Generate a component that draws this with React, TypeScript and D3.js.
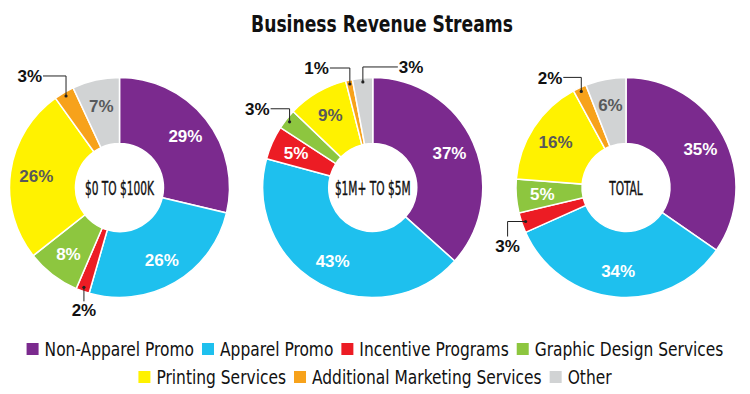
import { useRef, useEffect } from "react";
import * as d3 from "d3";

const categories = [
  "Non-Apparel Promo",
  "Apparel Promo",
  "Incentive Programs",
  "Graphic Design Services",
  "Printing Services",
  "Additional Marketing Services",
  "Other",
];
const colors = ["#7b2a8e", "#1ec0ee", "#ec1c24", "#8dc63f", "#fff200", "#f7a21b", "#d1d3d4"];
const darkText = ["#ffffff", "#ffffff", "#ffffff", "#ffffff", "#58595b", "#ffffff", "#58595b"];

const chartNames = ["$0 TO $100K", "$1M+ TO $5M", "TOTAL"];
const smallBiz = [29, 26, 2, 8, 26, 3, 7];
const midBiz = [37, 43, 5, 3, 9, 1, 3];
const totalBiz = [35, 34, 3, 5, 16, 2, 6];
const series = [smallBiz, midBiz, totalBiz];

// slices labelled outside the ring, with a leader line
const outside = [
  { chart: 0, cat: 5, first: "v", dy: -20, dx: -23 },
  { chart: 0, cat: 2, first: "v", dy: 14, dx: 0 },
  { chart: 1, cat: 3, first: "v", dy: -13, dx: -19 },
  { chart: 1, cat: 5, first: "v", dy: -16, dx: -20 },
  { chart: 1, cat: 6, first: "v", dy: -15, dx: 35 },
  { chart: 2, cat: 5, first: "v", dy: -14, dx: -18 },
  { chart: 2, cat: 2, first: "h", dy: 15, dx: -18 },
];

const legendRows = [
  [0, 1, 2, 3],
  [4, 5, 6],
];

const W = 750;
const H = 394;
const narrow = "'DejaVu Sans Condensed', 'Roboto', sans-serif";
const bold = "'Liberation Sans', Arial, sans-serif";

export default function App() {
  const svgRef = useRef<SVGSVGElement>(null);

  useEffect(() => {
    const svg = d3.select(svgRef.current);
    svg.selectAll("*").remove();

    const outerR = 110;
    const innerR = 44;
    const centers = d3.scalePoint<number>().domain([0, 1, 2]).range([119.5, 626]);
    const cy = 187.5;

    const pie = d3.pie<number>().sort(null).value((d) => d);
    const arc = d3.arc<d3.PieArcDatum<number>>().innerRadius(innerR).outerRadius(outerR);
    const labelArc = d3.arc<d3.PieArcDatum<number>>().innerRadius(84).outerRadius(84);
    const edgeArc = d3.arc<d3.PieArcDatum<number>>().innerRadius(106).outerRadius(106);

    svg
      .append("text")
      .attr("transform", `translate(382,32) scale(0.83,1)`)
      .attr("text-anchor", "middle")
      .style("font-family", narrow)
      .style("font-weight", 700)
      .style("font-size", "23px")
      .attr("fill", "#111")
      .text("Business Revenue Streams");

    series.forEach((vals, ci) => {
      const g = svg.append("g").attr("transform", `translate(${centers(ci)},${cy})`);
      const arcs = pie(vals);

      g.selectAll("path.slice")
        .data(arcs)
        .enter()
        .append("path")
        .attr("class", "slice")
        .attr("d", arc)
        .attr("fill", (d, i) => colors[i])
        .attr("stroke", "#fff")
        .attr("stroke-width", 1.5);

      const outs = outside.filter((o) => o.chart === ci).map((o) => o.cat);

      g.selectAll("text.pct")
        .data(arcs.filter((d, i) => !outs.includes(i)))
        .enter()
        .append("text")
        .attr("class", "pct")
        .attr("transform", (d) => `translate(${labelArc.centroid(d)})`)
        .attr("text-anchor", "middle")
        .attr("dy", "0.36em")
        .style("font-family", bold)
        .style("font-weight", 700)
        .style("font-size", "17px")
        .attr("fill", (d) => darkText[d.index])
        .text((d) => d.value + "%");

      g.append("text")
        .attr("transform", "scale(0.59,1)")
        .attr("text-anchor", "middle")
        .attr("dy", "0.36em")
        .style("font-family", narrow)
        .style("font-size", "20px")
        .attr("stroke", "#111")
        .attr("stroke-width", 0.4)
        .attr("fill", "#111")
        .text(chartNames[ci]);

      outside
        .filter((o) => o.chart === ci)
        .forEach((o) => {
          const [px, py] = edgeArc.centroid(arcs[o.cat]);
          const mid = o.first === "v" ? [px, py + o.dy] : [px + o.dx, py];
          const end = [px + o.dx, py + o.dy];
          g.append("path")
            .attr("d", d3.line()([[px, py], mid as [number, number], end as [number, number]]))
            .attr("fill", "none")
            .attr("stroke", "#222")
            .attr("stroke-width", 1);
          g.append("circle").attr("cx", px).attr("cy", py).attr("r", 1.6).attr("fill", "#222");
          const t = g
            .append("text")
            .style("font-family", bold)
            .style("font-weight", 700)
            .style("font-size", "17px")
            .attr("fill", "#111")
            .text(vals[o.cat] + "%");
          if (o.first === "v" && o.dx !== 0) {
            t.attr("x", end[0] + (o.dx < 0 ? -1 : 1))
              .attr("y", end[1])
              .attr("dy", "0.36em")
              .attr("text-anchor", o.dx < 0 ? "end" : "start");
          } else {
            t.attr("x", end[0]).attr("y", end[1] + 15).attr("text-anchor", "middle");
          }
        });
    });

    // legend, two centred rows
    const rowY = [349, 377];
    const sx = 0.86;
    legendRows.forEach((row, ri) => {
      const lg = svg.append("g");
      let x = 0;
      row.forEach((cat) => {
        lg.append("rect")
          .attr("x", x)
          .attr("y", rowY[ri] - 6)
          .attr("width", 12)
          .attr("height", 12)
          .attr("fill", colors[cat]);
        const t = lg
          .append("text")
          .attr("transform", `translate(${x + 18},${rowY[ri]}) scale(${sx},1)`)
          .attr("dy", "0.36em")
          .style("font-family", narrow)
          .style("font-size", "20px")
          .attr("fill", "#111")
          .text(categories[cat]);
        const w = (t.node() as SVGTextElement).getComputedTextLength() * sx;
        x += 18 + w + 8;
      });
      const total = x - 8;
      lg.attr("transform", `translate(${(W - total) / 2},0)`);
    });
  }, []);

  return (
    <svg
      ref={svgRef}
      width={W}
      height={H}
      style={{ position: "absolute", left: 0, top: 0, background: "#fff" }}
    />
  );
}
